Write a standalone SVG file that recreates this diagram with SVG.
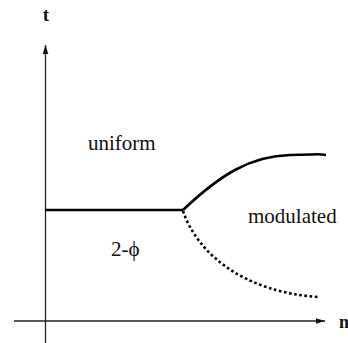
<svg xmlns="http://www.w3.org/2000/svg" width="348" height="343" viewBox="0 0 348 343">
<style>
.axis{stroke:#222;stroke-width:1.3;fill:none}
.phase{stroke:#000;stroke-width:2.6;fill:none}
.dot{stroke:#000;stroke-width:2.6;fill:none;stroke-dasharray:2.6 2.6}
.lbl{font-family:"Times New Roman",Times,"Liberation Serif","DejaVu Serif","Noto Serif",serif;font-size:21px;fill:#111}
.ax{font-family:"Times New Roman",Times,"Liberation Serif","DejaVu Serif","Noto Serif",serif;font-weight:bold;fill:#111}
</style>
<defs>
<marker id="arr" markerWidth="10" markerHeight="8" refX="9" refY="4" orient="auto" markerUnits="userSpaceOnUse">
<path d="M0,1.2 L9,4 L0,6.8 Z" fill="#111"/>
</marker>
</defs>
<rect width="348" height="343" fill="#fff"/>
<g id="connectors">
<line id="t-axis" class="axis" x1="45.5" y1="343" x2="45.5" y2="45" marker-end="url(#arr)"/>
<line id="n-axis" class="axis" x1="14" y1="321" x2="325" y2="321" marker-end="url(#arr)"/>
<path id="boundary-flat" class="phase" d="M45,210 L183,210"/>
<path id="boundary-upper" class="phase" d="M183,210 C220,175 250,156 290,155 S315,154 326,155"/>
<path id="boundary-lower" class="dot" d="M183,211 C198,255 245,292 318,297"/>
</g>
<g id="label-t"><text class="ax" x="46" y="21" font-size="19" text-anchor="middle">t</text></g>
<g id="label-n"><text class="ax" x="339" y="328" font-size="18">n</text></g>
<g id="region-uniform"><text class="lbl" x="88" y="150">uniform</text></g>
<g id="region-modulated"><text class="lbl" x="248" y="223">modulated</text></g>
<g id="region-2phi"><text class="lbl" x="111" y="256">2-ϕ</text></g>
</svg>
